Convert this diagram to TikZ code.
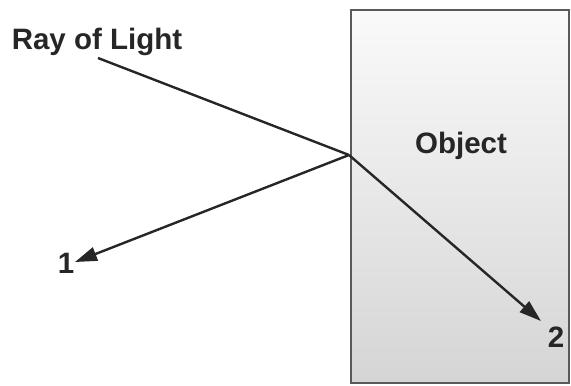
\documentclass[tikz,border=0pt]{standalone}
\usepackage{fontspec}
\setmainfont{Liberation Sans}
\usetikzlibrary{arrows.meta}
\begin{document}
\begin{tikzpicture}[x=1pt,y=-1pt,
  ray/.style={line width=2.4pt, black!85},
  tip/.style={-{Triangle[length=22pt,width=14pt]}},
  lbl/.style={font=\fontsize{29.5}{31}\selectfont\bfseries, text=black!85, inner sep=0pt}]
\useasboundingbox (0,0) rectangle (571,386);
\node[draw=black!65, line width=2pt, minimum width=218pt, minimum height=373pt,
  top color=gray!4, bottom color=gray!33, shading angle=0, inner sep=0pt]
  (obj) at (460,196.5) {};
\node[lbl] (objtext) at (461,146) {Object};
\node[lbl] (raytext) at (97,42) {Ray of Light};
\node[lbl] (one) at (66,263) {1};
\node[lbl] (two) at (556,337) {2};
\coordinate (src) at (98,58);
\coordinate (hit) at (349,155);
\coordinate (end1) at (75,262);
\coordinate (end2) at (541,321);
\draw[ray] (src) -- (hit);
\draw[ray, tip] (hit) -- (end1);
\draw[ray, tip] (hit) -- (end2);
\end{tikzpicture}
\end{document}
